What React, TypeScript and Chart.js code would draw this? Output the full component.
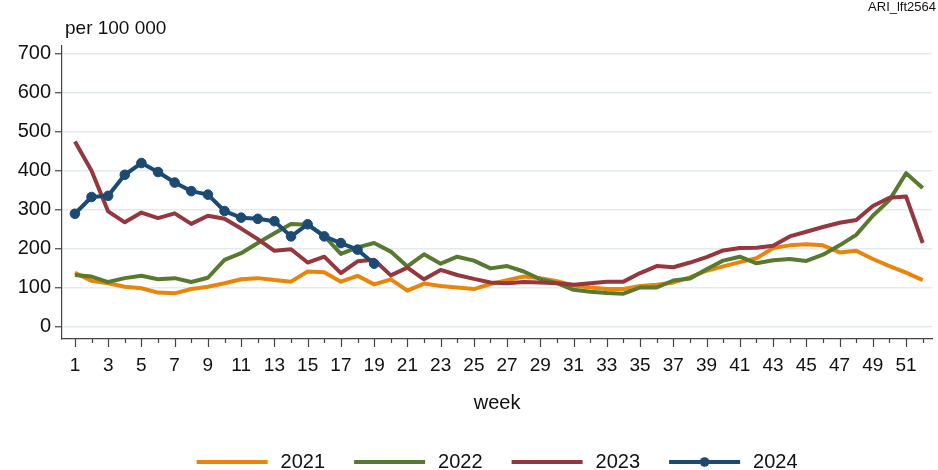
import React, { useEffect, useRef } from "react";
import { Chart, registerables } from "chart.js";

Chart.register(...registerables);

const FONT = '"Liberation Sans", Arial, Helvetica, sans-serif';
const TEXT = "#111111";
const AXIS = "#444444";

const weeks = [
  1, 2, 3, 4, 5, 6, 7, 8, 9, 10, 11, 12, 13, 14, 15, 16, 17, 18, 19, 20, 21, 22, 23, 24, 25, 26,
  27, 28, 29, 30, 31, 32, 33, 34, 35, 36, 37, 38, 39, 40, 41, 42, 43, 44, 45, 46, 47, 48, 49, 50, 51, 52,
];
const yTickValues = [0, 100, 200, 300, 400, 500, 600, 700];
const seriesNames = ["2021", "2022", "2023", "2024"];
const seriesColors = ["#e8860c", "#587a30", "#94373f", "#1b4a73"];

const y2021 = [
  139, 118, 112, 103, 99, 88, 86, 97, 103, 112, 122, 125, 120, 116, 142, 140, 116, 131, 109, 122, 93, 111, 105, 101, 97, 110,
  120, 129, 125, 117, 106, 101, 97, 97, 105, 108, 114, 127, 144, 155, 166, 176, 202, 209, 212, 209, 191, 195, 174, 156, 139, 120,
];
const y2022 = [
  133, 129, 115, 125, 131, 122, 125, 115, 126, 172, 189, 215, 240, 264, 262, 233, 187, 204, 215, 193, 155, 186, 162, 180, 170, 150,
  156, 142, 122, 112, 95, 90, 87, 85, 101, 101, 119, 124, 148, 170, 180, 163, 171, 174, 169, 185, 209, 236, 285, 325, 394, 356,
];
const y2023 = [
  475, 400, 296, 268, 293, 279, 291, 264, 285, 277, 252, 225, 195, 199, 165, 180, 138, 168, 172, 132, 152, 122, 146, 133, 123, 114,
  112, 115, 114, 112, 108, 112, 116, 116, 138, 156, 153, 165, 179, 196, 202, 203, 208, 232, 244, 256, 267, 274, 310, 331, 334, 215,
];
const y2024 = [290, 333, 336, 390, 420, 397, 370, 348, 339, 297, 280, 277, 271, 232, 263, 232, 215, 198, 162];

const unitLabel = "per 100 000";
const graphId = "ARI_lft2564";
const xTitle = "week";

const allSeries = [y2021, y2022, y2023, y2024];

const decorPlugin = {
  id: "decor",
  afterDraw(chart: any) {
    const { ctx, chartArea, scales } = chart;
    const xs = scales.x;
    ctx.save();
    // x tick marks (major at odd weeks, minor at even weeks)
    ctx.strokeStyle = AXIS;
    ctx.lineWidth = 1.2;
    weeks.forEach((w) => {
      const px = Math.round(xs.getPixelForValue(w)) + 0.5;
      const len = w % 2 === 1 ? 8 : 4;
      ctx.beginPath();
      ctx.moveTo(px, chartArea.bottom);
      ctx.lineTo(px, chartArea.bottom + len);
      ctx.stroke();
    });
    // unit label and id
    ctx.fillStyle = TEXT;
    ctx.textBaseline = "middle";
    ctx.textAlign = "left";
    ctx.font = `19px ${FONT}`;
    ctx.fillText(unitLabel, chartArea.left + 3, chartArea.top - 17);
    ctx.font = `13px ${FONT}`;
    ctx.textAlign = "right";
    ctx.fillText(graphId, chart.width - 2, 7);
    // legend
    ctx.font = `20px ${FONT}`;
    ctx.textAlign = "left";
    const sampleW = 71;
    const textGap = 13;
    const itemGap = 29;
    const widths = seriesNames.map((n) => sampleW + textGap + ctx.measureText(n).width);
    const total = widths.reduce((a, b) => a + b, 0) + itemGap * (widths.length - 1);
    const cx = (chartArea.left + chartArea.right) / 2;
    let x = cx - total / 2;
    const ly = 462;
    seriesNames.forEach((n, i) => {
      ctx.strokeStyle = seriesColors[i];
      ctx.lineWidth = 4;
      ctx.lineCap = "butt";
      ctx.beginPath();
      ctx.moveTo(x, ly);
      ctx.lineTo(x + sampleW, ly);
      ctx.stroke();
      if (i === 3) {
        ctx.fillStyle = seriesColors[i];
        ctx.beginPath();
        ctx.arc(x + sampleW / 2, ly, 4.8, 0, Math.PI * 2);
        ctx.fill();
      }
      ctx.fillStyle = TEXT;
      ctx.fillText(n, x + sampleW + textGap, ly);
      x += widths[i] + itemGap;
    });
    ctx.restore();
  },
};

export default function App() {
  const ref = useRef<HTMLCanvasElement>(null);
  useEffect(() => {
    document.body.style.margin = "0";
    const datasets = allSeries.map((vals, i) => ({
      label: seriesNames[i],
      data: vals.map((v, k) => ({ x: weeks[k], y: v })),
      borderColor: seriesColors[i],
      backgroundColor: seriesColors[i],
      borderWidth: 4,
      borderJoinStyle: "round" as const,
      tension: 0,
      fill: false,
      pointRadius: i === 3 ? 4.8 : 0,
      pointBorderWidth: 1,
      pointBackgroundColor: seriesColors[i],
      pointBorderColor: seriesColors[i],
      order: 4 - i,
    }));
    const chart = new Chart(ref.current!, {
      type: "line",
      data: { datasets },
      options: {
        responsive: false,
        animation: false,
        devicePixelRatio: 1,
        layout: { padding: { top: 46, right: 0, bottom: 50, left: 0 } },
        plugins: { legend: { display: false }, tooltip: { enabled: false } },
        scales: {
          x: {
            type: "linear",
            min: 0.2231,
            max: 52.571,
            afterBuildTicks: (s: any) => {
              s.ticks = weeks.map((v) => ({ value: v }));
            },
            afterFit: (s: any) => {
              s.height = 81;
            },
            ticks: {
              autoSkip: false,
              maxRotation: 0,
              padding: 7,
              color: TEXT,
              font: { family: FONT, size: 19 },
              callback: (v: any) => (Number(v) % 2 === 1 ? String(v) : ""),
            },
            grid: { display: false, drawTicks: true, tickLength: 8 },
            border: { display: true, color: AXIS, width: 1.2 },
            title: {
              display: true,
              text: xTitle,
              color: TEXT,
              font: { family: FONT, size: 20 },
              padding: { top: 0, bottom: 5 },
            },
          },
          y: {
            type: "linear",
            min: -31,
            max: 720,
            afterBuildTicks: (s: any) => {
              s.ticks = yTickValues.map((v) => ({ value: v }));
            },
            afterFit: (s: any) => {
              s.width = 62;
            },
            ticks: { padding: 4, color: TEXT, font: { family: FONT, size: 20 } },
            grid: {
              color: "#e4ebed",
              lineWidth: 1.5,
              drawTicks: true,
              tickLength: 7,
              tickColor: AXIS,
              tickWidth: 1.2,
            },
            border: { display: true, color: AXIS, width: 1.2 },
          },
        },
      },
      plugins: [decorPlugin],
    });
    return () => chart.destroy();
  }, []);
  return (
    <div style={{ position: "absolute", left: 0, top: 0, width: 938, height: 470 }}>
      <canvas ref={ref} width={938} height={470} style={{ display: "block" }} />
    </div>
  );
}
